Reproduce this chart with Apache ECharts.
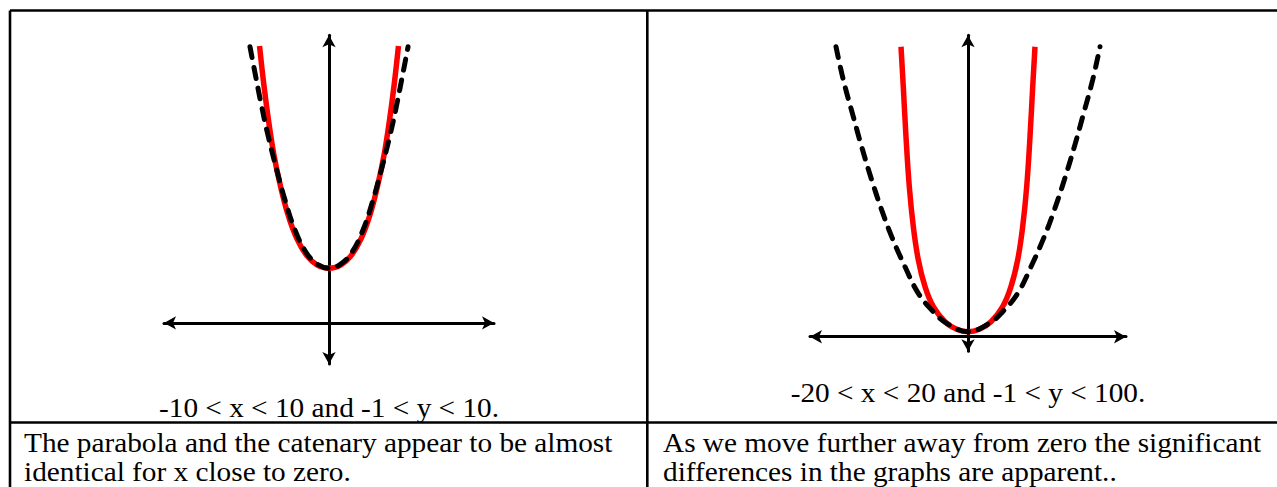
<!DOCTYPE html>
<html>
<head>
<meta charset="utf-8">
<title>Parabola vs catenary</title>
<script src="https://cdn.jsdelivr.net/npm/echarts@6/dist/echarts.min.js"></script>
<style>
  html, body { margin: 0; padding: 0; background: #fff; }
  #chart { width: 1277px; height: 487px; }
</style>
</head>
<body>
<div id="chart"></div>
<script>
// values (red = catenary, black dashed = parabola)
const leftCatenaryX = [-4.21, -3.94, -3.67, -3.36, -2.97, -2.48, -1.94, -1.33, -0.73, 0, 0.73, 1.33, 1.94, 2.48, 2.97, 3.36, 3.67, 3.94, 4.21];
const leftCatenaryY = [9.63, 8.24, 7.06, 5.91, 4.83, 3.75, 2.92, 2.33, 2.02, 1.90, 2.02, 2.33, 2.92, 3.75, 4.83, 5.91, 7.06, 8.24, 9.63];
const leftParabolaX = [-4.79, -4.48, -4.08, -3.68, -3.17, -2.67, -2.06, -1.35, -0.65, 0, 0.65, 1.35, 2.06, 2.67, 3.17, 3.68, 4.08, 4.48, 4.79];
const leftParabolaY = [9.60, 8.68, 7.52, 6.48, 5.32, 4.28, 3.23, 2.42, 2.02, 1.90, 2.02, 2.42, 3.23, 4.28, 5.32, 6.48, 7.52, 8.68, 9.60];

const rightCatenaryX = [-8.48, -8.19, -7.85, -7.43, -6.92, -6.29, -5.44, -4.39, -2.91, -1.43, 0, 1.43, 2.91, 4.39, 5.44, 6.29, 6.92, 7.43, 7.85, 8.19, 8.48];
const rightCatenaryY = [96.2, 82.9, 66.4, 49.8, 36.5, 25.5, 16.6, 9.95, 4.98, 2.46, 1.66, 2.46, 4.98, 9.95, 16.6, 25.5, 36.5, 49.8, 66.4, 82.9, 96.2];
const rightParabolaX = [-16.71, -15.78, -14.52, -13.46, -12.19, -10.92, -9.66, -7.97, -6.29, -4.39, -2.70, 0, 2.70, 4.39, 6.29, 7.97, 9.66, 10.92, 12.19, 13.46, 14.52, 15.78, 16.71];
const rightParabolaY = [96.2, 85.2, 73.0, 63.0, 52.0, 42.0, 33.2, 23.2, 14.4, 8.29, 4.45, 1.66, 4.45, 8.29, 14.4, 23.2, 33.2, 42.0, 52.0, 63.0, 73.0, 85.2, 96.2];

// window of each plot: [xmin, xmax, ymin, ymax]
const leftWindow = [-10, 10, -1.43, 10];
const rightWindow = [-20, 20, -4.84, 100];

const captions = ['-10 < x < 10 and -1 < y < 10.', '-20 < x < 20 and -1 < y < 100.'];
const notesLeft = ['The parabola and the catenary appear to be almost', 'identical for x close to zero.'];
const notesRight = ['As we move further away from zero the significant', 'differences in the graphs are apparent..'];

function pairs(xs, ys) {
  return xs.map(function (x, i) { return [x, ys[i]]; });
}

const axisLine = {
  onZero: true,
  symbol: ['arrow', 'arrow'],
  symbolSize: [10, 12],
  lineStyle: { color: '#000', width: 3 }
};

function makeAxis(idx, min, max) {
  return {
    type: 'value', gridIndex: idx, min: min, max: max,
    axisLine: axisLine,
    axisTick: { show: false },
    axisLabel: { show: false },
    splitLine: { show: false }
  };
}

function curve(idx, data, dashed) {
  return {
    type: 'line', xAxisIndex: idx, yAxisIndex: idx,
    data: data, smooth: 0.4, showSymbol: false, silent: true,
    z: dashed ? 3 : 2,
    lineStyle: dashed
      ? { color: '#000', width: 5, type: [11, 10], cap: 'round' }
      : { color: '#ff0000', width: 5.5 }
  };
}

// the document text is slightly stretched sideways in the picture
function label(x, y, text, align) {
  return {
    type: 'text', x: x, y: y, scaleX: 1.065,
    style: {
      text: text, fill: '#000',
      fontSize: 27.5, fontFamily: 'Liberation Serif',
      align: align, textAlign: align,
      verticalAlign: 'middle', textVerticalAlign: 'middle'
    }
  };
}

function border(x1, y1, x2, y2) {
  return {
    type: 'line', shape: { x1: x1, y1: y1, x2: x2, y2: y2 },
    style: { stroke: '#000', lineWidth: 2.6 }
  };
}

var chart = echarts.init(document.getElementById('chart'), null, { renderer: 'svg' });

chart.setOption({
  backgroundColor: '#fff',
  animation: false,
  grid: [
    { left: 164, top: 35.3, width: 330, height: 328.7, outerBoundsMode: 'none' },
    { left: 810, top: 35.3, width: 316, height: 316, outerBoundsMode: 'none' }
  ],
  xAxis: [makeAxis(0, leftWindow[0], leftWindow[1]), makeAxis(1, rightWindow[0], rightWindow[1])],
  yAxis: [makeAxis(0, leftWindow[2], leftWindow[3]), makeAxis(1, rightWindow[2], rightWindow[3])],
  series: [
    curve(0, pairs(leftCatenaryX, leftCatenaryY), false),
    curve(0, pairs(leftParabolaX, leftParabolaY), true),
    curve(1, pairs(rightCatenaryX, rightCatenaryY), false),
    curve(1, pairs(rightParabolaX, rightParabolaY), true)
  ],
  graphic: [
    border(10, 10.5, 1277, 10.5),
    border(10, 10.5, 10, 487),
    border(647.3, 10.5, 647.3, 487),
    border(10, 422.5, 1277, 422.5),
    label(329, 408.2, captions[0], 'center'),
    label(968, 392.7, captions[1], 'center'),
    label(24, 442.5, notesLeft[0], 'left'),
    label(24, 472.3, notesLeft[1], 'left'),
    label(663, 442.5, notesRight[0], 'left'),
    label(663, 472.3, notesRight[1], 'left')
  ]
});
</script>
</body>
</html>
